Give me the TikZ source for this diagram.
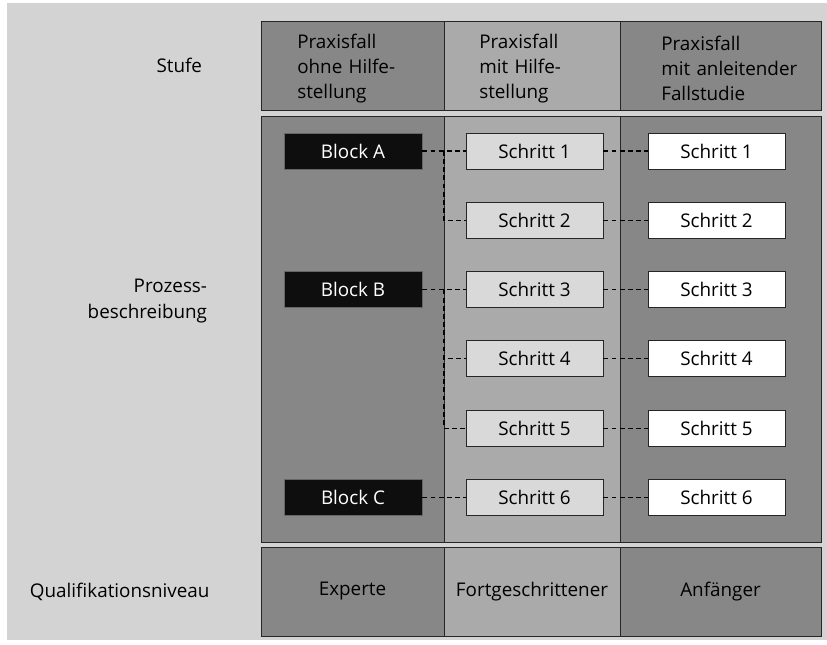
\documentclass[tikz,border=0pt]{standalone}
\usepackage{fontspec}
\setmainfont{Open Sans}
\usetikzlibrary{calc}
\definecolor{bggray}{RGB}{211,211,211}
\definecolor{darkcol}{RGB}{135,135,135}
\definecolor{midcol}{RGB}{170,170,170}
\definecolor{stepfill}{RGB}{217,217,217}
\definecolor{blockfill}{RGB}{14,14,14}

\begin{document}
\begin{tikzpicture}[x=0.025cm, y=-0.025cm, font=\fontsize{13.4}{18}\selectfont,
  cell/.style={draw=black!85, line width=0.6pt},
  headtext/.style={anchor=west, align=left, text width=4.2cm, inner xsep=0pt},
  blockbox/.style={fill=blockfill, draw=black!60, line width=0.6pt, text=white,
    minimum width=3.45cm, minimum height=0.9cm, inner sep=0pt},
  stepbox/.style={draw=black!85, line width=0.6pt, text=black,
    minimum width=3.425cm, minimum height=0.9cm, inner sep=0pt},
  link/.style={black, line width=0.8pt, dash pattern=on 3.4pt off 2.4pt}]
% geometry: pixel grid of the reference, columns at x = 261 | 444 | 620 | 821
\def\rowy{151}
\def\rowd{69.3}
\useasboundingbox (0,0) rectangle (827,644);
\fill[bggray] (7,3) rectangle (827,640);

% ---- column bands: header, process block, level ----
\foreach \xa/\xb/\c in {261/444/darkcol, 444/620/midcol, 620/821/darkcol}{
  \draw[cell, fill=\c] (\xa,21) rectangle (\xb,110);
  \draw[cell, fill=\c] (\xa,116) rectangle (\xb,542);
  \draw[cell, fill=\c] (\xa,547) rectangle (\xb,636);
}

% ---- left labels ----
\node[anchor=east] (stufe) at (207,65) {Stufe};
\node[anchor=east, align=right] (prozess) at (212,301) {Prozess-\\beschreibung};
\node[anchor=west] (quali) at (25,591.5) {Qualifikationsniveau};

% ---- header texts ----
\node[headtext] (h1) at (297,68.5) {Praxisfall\\ohne Hilfe-\\stellung};
\node[headtext] (h2) at (479,68.5) {Praxisfall\\mit Hilfe-\\stellung};
\node[headtext] (h3) at (661,68.5) {Praxisfall\\mit anleitender\\Fallstudie};

% ---- steps (two columns) ----
\foreach \i in {1,...,6}{
  \node[stepbox, fill=stepfill] (sa\i) at (534.5,{\rowy+(\i-1)*\rowd}) {Schritt \i};
  \node[stepbox, fill=white] (sb\i) at (716.5,{\rowy+(\i-1)*\rowd}) {Schritt \i};
  \draw[link] (sa\i) -- (sb\i);
}

% ---- blocks ----
\node[blockbox] (blA) at (353,{\rowy}) {Block A};
\node[blockbox] (blB) at (353,{\rowy+2*\rowd}) {Block B};
\node[blockbox] (blC) at (353,{\rowy+5*\rowd}) {Block C};

% block -> steps
\draw[link] (blA) -- (sa1);
\draw[link] ($(blA.east)!.5!(sa1.west)$) |- (sa2.west);
\draw[link] (blB) -- (sa3);
\draw[link] ($(blB.east)!.5!(sa3.west)$) |- (sa4.west);
\draw[link] ($(blB.east)!.5!(sa3.west)$) |- (sa5.west);
\draw[link] (blC) -- (sa6);

% ---- level row ----
\node (lv1) at (352.5,591.5) {Experte};
\node (lv2) at (532,591.5) {Fortgeschrittener};
\node (lv3) at (720.5,591.5) {Anfänger};
\end{tikzpicture}
\end{document}
